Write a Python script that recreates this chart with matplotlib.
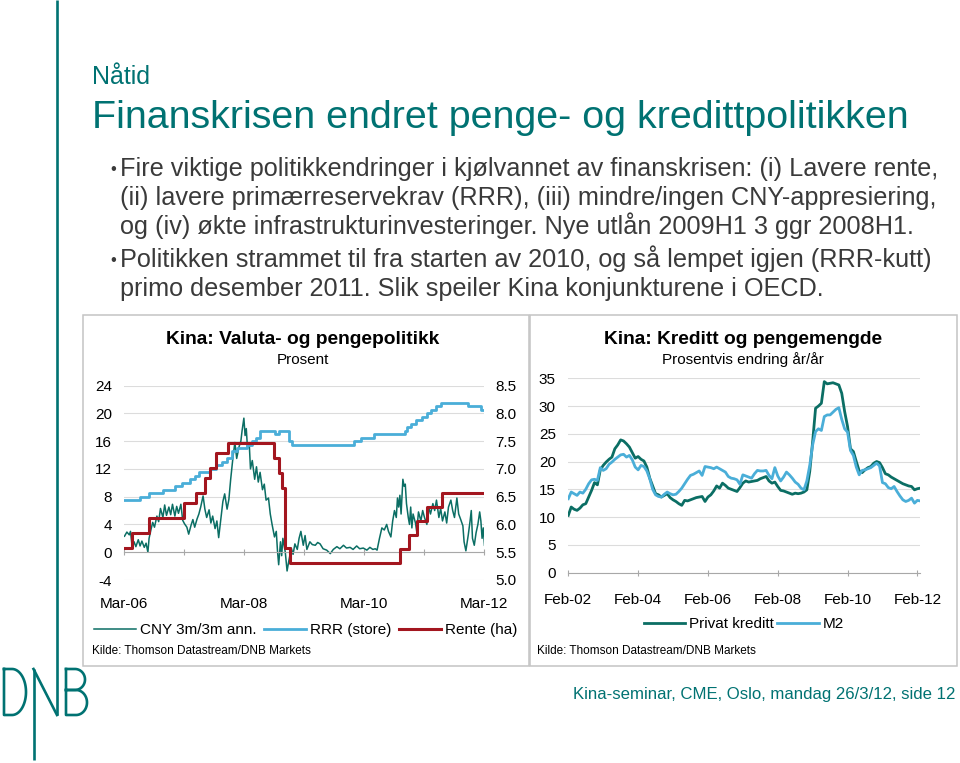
import matplotlib
matplotlib.use("Agg")
import matplotlib.pyplot as plt
from matplotlib.patches import Rectangle
import numpy as np

plt.rcParams['font.family'] = ['Liberation Sans', 'DejaVu Sans']
plt.rcParams['axes.unicode_minus'] = False

TEAL = '#007272'
DARK = '#0b6e64'
LIGHT = '#4aaed8'
RED = '#a3161f'
TXT = '#3a3a3a'

# ---- venstre figur: CNY 3m/3m ann. (venstre akse) ----
cny_t = [2006.17, 2006.21, 2006.25, 2006.27, 2006.30, 2006.33, 2006.36, 2006.40, 2006.43, 2006.46,
         2006.50, 2006.53, 2006.56, 2006.58, 2006.61, 2006.64, 2006.67, 2006.71, 2006.74, 2006.77,
         2006.81, 2006.84, 2006.87, 2006.91, 2006.94, 2006.97, 2007.01, 2007.04, 2007.07, 2007.11,
         2007.14, 2007.17, 2007.21, 2007.24, 2007.28, 2007.31, 2007.34, 2007.38, 2007.41, 2007.44,
         2007.48, 2007.51, 2007.54, 2007.58, 2007.61, 2007.64, 2007.68, 2007.71, 2007.74, 2007.78,
         2007.81, 2007.84, 2007.88, 2007.91, 2007.94, 2007.98, 2008.01, 2008.04, 2008.08, 2008.11,
         2008.13, 2008.16, 2008.18, 2008.20, 2008.22, 2008.25, 2008.27, 2008.30, 2008.34, 2008.37,
         2008.40, 2008.43, 2008.47, 2008.50, 2008.53, 2008.57, 2008.60, 2008.63, 2008.67, 2008.70,
         2008.72, 2008.74, 2008.77, 2008.79, 2008.81, 2008.85, 2008.88, 2008.91, 2008.95, 2008.98,
         2009.01, 2009.05, 2009.08, 2009.11, 2009.15, 2009.18, 2009.21, 2009.26, 2009.30, 2009.35,
         2009.39, 2009.43, 2009.48, 2009.54, 2009.60, 2009.65, 2009.71, 2009.76, 2009.82, 2009.87,
         2009.93, 2009.98, 2010.04, 2010.09, 2010.15, 2010.21, 2010.26, 2010.31, 2010.35, 2010.38,
         2010.42, 2010.46, 2010.50, 2010.54, 2010.57, 2010.61, 2010.64, 2010.67, 2010.70, 2010.72,
         2010.74, 2010.76, 2010.78, 2010.81, 2010.83, 2010.85, 2010.87, 2010.90, 2010.92, 2010.94,
         2010.96, 2010.98, 2011.02, 2011.04, 2011.07, 2011.11, 2011.14, 2011.17, 2011.21, 2011.24,
         2011.27, 2011.31, 2011.34, 2011.37, 2011.41, 2011.44, 2011.47, 2011.51, 2011.54, 2011.57,
         2011.61, 2011.64, 2011.67, 2011.71, 2011.74, 2011.77, 2011.81, 2011.83, 2011.86, 2011.90,
         2011.93, 2011.95, 2011.97, 2012.00, 2012.03, 2012.06, 2012.09, 2012.11, 2012.13, 2012.15,
         2012.17]
cny_v = [2.3, 2.9, 2.5, 3.0, 0.6, 1.5, 0.8, 1.8, 0.9, 1.6,
         0.7, 1.3, 0.0, 2.0, 3.2, 4.3, 3.6, 5.2, 4.4, 6.3,
         5.0, 6.8, 5.3, 6.5, 5.4, 6.9, 5.2, 6.6, 5.6, 6.9,
         4.6, 4.1, 3.6, 2.6, 3.9, 4.7, 3.6, 4.8, 5.5, 6.5,
         8.1, 6.2, 5.0, 6.1, 4.2, 5.2, 3.4, 4.5, 2.1, 5.0,
         7.3, 8.4, 6.2, 7.6, 10.5, 13.8, 15.8, 13.5, 15.2, 16.0,
         17.5, 19.3, 16.8, 17.8, 15.0, 15.5, 12.0, 13.2, 10.5, 12.3,
         10.1, 11.5, 9.0, 9.8, 7.5, 7.8, 5.5, 4.0, 2.2, 3.0,
         0.2, -1.8, 1.5, -0.5, 2.0, 0.0, -2.7, -1.2, 0.6, -0.3,
         1.2, 0.4, 2.0, 3.0, 1.0, 2.4, 0.4, 1.5, 1.1, 1.0,
         1.4, 1.2, 0.5, 0.3, -0.2, 0.4, 0.8, 0.5, 1.0, 0.6,
         0.7, 0.4, 0.9, 0.5, 0.6, 0.3, 0.7, 0.4, 0.5, 0.3,
         2.0, 3.5, 3.2, 4.0, 3.0, 2.2, 4.5, 6.0, 5.0, 7.8,
         6.5, 8.2, 5.5, 10.5, 9.5, 9.8, 7.0, 5.0, 4.0, 6.5,
         3.5, 5.5, 4.2, 3.0, 5.8, 4.5, 6.0, 5.0, 4.0, 6.5,
         5.5, 7.0, 6.0, 7.5, 5.0, 6.3, 4.5, 5.8, 4.2, 6.5,
         7.5, 6.0, 5.0, 7.8, 5.5, 4.8, 3.8, 1.5, 0.2, 2.5,
         4.5, 6.0, 2.0, 1.0, 2.8, 4.0, 5.8, 4.5, 2.0, 3.5,
         1.0]

# RRR (store banker), venstre akse
rrr_t = [2006.167, 2006.43, 2006.58, 2006.82, 2007.02, 2007.13, 2007.27, 2007.35, 2007.41, 2007.60,
         2007.70, 2007.80, 2007.88, 2007.96, 2008.05, 2008.21, 2008.30, 2008.37, 2008.43, 2008.68,
         2008.75, 2008.91, 2008.97, 2009.99, 2010.12, 2010.33, 2010.84, 2010.88, 2010.95, 2011.03,
         2011.13, 2011.21, 2011.28, 2011.36, 2011.44, 2011.90, 2012.12, 2012.167]
rrr_v = [7.5, 8.0, 8.5, 9.0, 9.5, 10.0, 10.5, 11.0, 11.5, 12.0,
         12.5, 13.0, 13.5, 14.5, 15.0, 15.5, 16.0, 16.5, 17.5, 17.0,
         17.5, 16.0, 15.5, 16.0, 16.5, 17.0, 17.5, 18.0, 18.5, 19.0,
         19.5, 20.0, 20.5, 21.0, 21.5, 21.0, 20.5, 20.5]

# Rente, høyre akse
rente_t = [2006.167, 2006.29, 2006.58, 2007.17, 2007.37, 2007.52, 2007.60, 2007.70, 2007.90, 2008.66,
           2008.74, 2008.80, 2008.84, 2008.93, 2010.76, 2010.92, 2011.04, 2011.21, 2011.47, 2012.167]
rente_v = [5.58, 5.85, 6.12, 6.39, 6.57, 6.84, 7.02, 7.29, 7.47, 7.20,
           6.93, 6.66, 5.58, 5.31, 5.56, 5.81, 6.06, 6.31, 6.56, 6.56]

left_ticks = [2006.167, 2007.167, 2008.167, 2009.167, 2010.167, 2011.167, 2012.167]
left_labels = ['Mar-06', 'Mar-08', 'Mar-10', 'Mar-12']

# ---- høyre figur: månedlig vekst år/år fra feb 2002 ----
kreditt = [10.3, 11.8, 11.4, 11.2, 11.6, 12.2, 12.4, 13.6, 14.8, 16.2,
           15.8, 18.5, 19.3, 19.9, 20.4, 20.8, 22.3, 23.0, 23.9, 23.7,
           23.2, 22.6, 21.6, 20.6, 20.9, 20.4, 20.1, 19.0, 17.0, 15.6,
           14.2, 14.0, 13.6, 13.9, 14.2, 13.5, 13.1, 12.8, 12.4, 12.1,
           13.0, 12.9, 13.1, 13.3, 13.5, 13.6, 13.7, 12.8, 13.6, 14.0,
           14.7, 15.6, 15.2, 16.1, 15.7, 15.2, 15.0, 14.8, 14.6, 15.3,
           16.1, 16.5, 16.3, 16.4, 16.5, 16.6, 16.9, 17.1, 17.3, 16.5,
           16.1, 16.3, 15.5, 14.8, 14.7, 14.5, 14.3, 14.1, 14.3, 14.2,
           14.3, 14.5, 14.9, 18.2, 23.6, 29.6, 30.0, 30.5, 34.4, 34.0,
           34.1, 34.2, 34.0, 33.8, 32.3, 29.0, 26.3, 22.3, 21.8, 20.0,
           18.3, 18.0, 18.5, 18.9, 19.1, 19.7, 20.0, 19.8, 18.9, 17.8,
           17.6, 17.2, 16.9, 16.6, 16.3, 16.0, 15.8, 15.6, 15.5, 14.9,
           15.1, 15.2]
m2 = [13.3, 14.5, 14.2, 13.9, 14.5, 14.3, 15.0, 16.0, 16.7, 16.8,
      16.6, 18.9, 18.4, 18.7, 19.5, 19.9, 20.4, 20.8, 21.2, 21.3,
      20.8, 21.1, 20.3, 19.0, 18.5, 19.3, 19.1, 18.3, 16.9, 15.0,
      14.0, 13.7, 13.6, 14.1, 14.5, 14.2, 14.0, 14.1, 14.6, 15.2,
      16.0, 16.8, 17.5, 17.7, 18.0, 18.3, 17.5, 19.1, 19.0, 18.9,
      18.7, 19.0, 18.7, 18.4, 18.1, 17.3, 17.0, 16.9, 16.7, 15.9,
      17.6, 17.4, 17.2, 17.0, 17.8, 18.4, 18.3, 18.3, 18.4, 17.5,
      16.9, 18.9, 17.4, 16.5, 17.2, 18.1, 17.6, 17.0, 16.3, 15.9,
      15.2, 14.9, 16.5, 19.3, 23.0, 25.4, 25.9, 25.6, 28.1, 28.4,
      28.4, 28.9, 29.4, 29.7, 27.6, 25.9, 25.3, 22.0, 21.1, 19.0,
      17.6, 18.4, 18.5, 18.7, 18.9, 19.3, 19.7, 19.2, 16.2, 16.0,
      15.3, 15.1, 15.5, 14.6, 13.8, 13.1, 12.8, 13.0, 13.4, 12.5,
      13.0, 12.9]
start_year = 2002 + 1 / 12
months = np.arange(len(kreditt))
right_t = start_year + months / 12
right_ticks = [2002.083, 2004.083, 2006.083, 2008.083, 2010.083, 2012.083]
right_labels = ['Feb-02', 'Feb-04', 'Feb-06', 'Feb-08', 'Feb-10', 'Feb-12']

W, H = 960, 763
fig = plt.figure(figsize=(9.6, 7.63), dpi=100)


def fx(x):
    return x / W


def fy(y):
    return 1 - y / H


# Bakgrunn / lysbilde i piksler
bg = fig.add_axes([0, 0, 1, 1], zorder=0)
bg.set_xlim(0, W)
bg.set_ylim(H, 0)
bg.axis('off')

# DNB-strek og logo
lw_logo = 1.9
bg.plot([57, 57], [0, 715], color=TEAL, lw=lw_logo, solid_capstyle='butt')
bg.plot([33.5, 33.5], [669, 760], color=TEAL, lw=lw_logo, solid_capstyle='butt')
bg.plot([33.5, 57], [669, 715], color=TEAL, lw=lw_logo)
th = np.linspace(-np.pi / 2, np.pi / 2, 60)
# D
bg.plot(np.r_[4, 12, 12 + 14 * np.cos(th), 12, 4, 4],
        np.r_[669, 669, 692 + 23 * np.sin(th), 715, 715, 669],
        color=TEAL, lw=lw_logo)
# B
bg.plot(np.r_[66, 75, 75 + 10 * np.cos(th), 66],
        np.r_[669, 669, 679.5 + 10.5 * np.sin(th), 690],
        color=TEAL, lw=lw_logo)
bg.plot(np.r_[66, 76, 76 + 11 * np.cos(th), 66, 66],
        np.r_[690, 690, 702.5 + 12.5 * np.sin(th), 715, 669],
        color=TEAL, lw=lw_logo)

# Overskrifter
bg.text(92, 84, 'Nåtid', color=TEAL, fontsize=18, va='baseline')
bg.text(92, 128, 'Finanskrisen endret penge- og kredittpolitikken', color=TEAL,
        fontsize=28.4, va='baseline')

bullets = [
    ['Fire viktige politikkendringer i kjølvannet av finanskrisen: (i) Lavere rente,',
     '(ii) lavere primærreservekrav (RRR), (iii) mindre/ingen CNY-appresiering,',
     'og (iv) økte infrastrukturinvesteringer. Nye utlån 2009H1 3 ggr 2008H1.'],
    ['Politikken strammet til fra starten av 2010, og så lempet igjen (RRR-kutt)',
     'primo desember 2011. Slik speiler Kina konjunkturene i OECD.'],
]
y = 176
for para in bullets:
    bg.text(110, y - 2, '•', color=TXT, fontsize=12, va='baseline')
    for line in para:
        bg.text(120, y, line, color=TXT, fontsize=18.2, va='baseline')
        y += 29
    y += 4

bg.text(955, 699, 'Kina-seminar, CME, Oslo, mandag 26/3/12, side 12', color=TEAL,
        fontsize=12.1, va='baseline', ha='right')

# Rammer rundt figurene
for x0, x1 in [(83, 529), (530, 957)]:
    bg.add_patch(Rectangle((x0, 315), x1 - x0, 351, fill=False, ec='#c4c4c4', lw=1.1))

bg.text(303, 344, 'Kina: Valuta- og pengepolitikk', fontsize=13.8, fontweight='bold',
        ha='center', va='baseline')
bg.text(303, 364, 'Prosent', fontsize=11, ha='center', va='baseline')
bg.text(743, 344, 'Kina: Kreditt og pengemengde', fontsize=13.8, fontweight='bold',
        ha='center', va='baseline')
bg.text(743, 364, 'Prosentvis endring år/år', fontsize=11, ha='center', va='baseline')
bg.text(92, 654, 'Kilde: Thomson Datastream/DNB Markets', fontsize=8.5, va='baseline')
bg.text(537, 654, 'Kilde: Thomson Datastream/DNB Markets', fontsize=8.5, va='baseline')

GRID = '#dcdcdc'
AXC = '#a8a8a8'

# ---- venstre figur ----
ax = fig.add_axes([fx(124.3), fy(580), fx(484.3) - fx(124.3), fy(385.5) - fy(580)], zorder=2)
ax.patch.set_alpha(0)
ax.set_xlim(2006.167, 2012.167)
ax.set_ylim(-4, 24)
ax.set_yticks([-4, 0, 4, 8, 12, 16, 20, 24])
ax.yaxis.grid(True, color=GRID, lw=0.8)
ax.set_axisbelow(True)
for s in ['top', 'right', 'left']:
    ax.spines[s].set_visible(False)
ax.spines['bottom'].set_position(('data', 0))
ax.spines['bottom'].set_color(AXC)
ax.set_xticks(left_ticks)
ax.tick_params(axis='x', direction='inout', length=5, color=AXC, labelbottom=False)
ax.tick_params(axis='y', length=0, pad=9, labelsize=11)
sec = ax.secondary_xaxis('bottom')
sec.set_xticks(left_ticks[::2], left_labels)
sec.tick_params(length=0, pad=12, labelsize=11)
sec.spines['bottom'].set_visible(False)

l1, = ax.plot(cny_t, cny_v, color=DARK, lw=1.1)
l2, = ax.step(rrr_t, rrr_v, where='post', color=LIGHT, lw=2.0)

ax2 = ax.twinx()
ax2.set_ylim(5.0, 8.5)
ax2.set_yticks([5.0, 5.5, 6.0, 6.5, 7.0, 7.5, 8.0, 8.5])
ax2.set_yticklabels(['%.1f' % v for v in [5.0, 5.5, 6.0, 6.5, 7.0, 7.5, 8.0, 8.5]])
for s in ax2.spines.values():
    s.set_visible(False)
ax2.tick_params(axis='y', length=0, pad=8, labelsize=11)
l3, = ax2.step(rente_t, rente_v, where='post', color=RED, lw=2.2)

fig.legend([l1, l2, l3], ['CNY 3m/3m ann.', 'RRR (store)', 'Rente (ha)'],
           loc='center', bbox_to_anchor=(fx(306), fy(630)), ncol=3, frameon=False,
           fontsize=11, handlelength=2.7, handletextpad=0.3, columnspacing=0.5,
           borderaxespad=0, borderpad=0)

# ---- høyre figur ----
bx = fig.add_axes([fx(568.3), fy(572.5), fx(919.7) - fx(568.3), fy(378.3) - fy(572.5)], zorder=2)
bx.patch.set_alpha(0)
bx.set_xlim(2002.083, 2012.15)
bx.set_ylim(0, 35)
bx.set_yticks(range(0, 36, 5))
bx.yaxis.grid(True, color=GRID, lw=0.8)
bx.set_axisbelow(True)
for s in ['top', 'right', 'left']:
    bx.spines[s].set_visible(False)
bx.spines['bottom'].set_color(AXC)
bx.set_xticks(right_ticks, right_labels)
bx.tick_params(axis='x', direction='inout', length=5, color=AXC, pad=12, labelsize=11)
bx.tick_params(axis='y', length=0, pad=9, labelsize=11)
r1, = bx.plot(right_t, kreditt, color=DARK, lw=2.0)
r2, = bx.plot(right_t, m2, color=LIGHT, lw=2.0)

fig.legend([r1, r2], ['Privat kreditt', 'M2'],
           loc='center', bbox_to_anchor=(fx(744), fy(624)), ncol=2, frameon=False,
           fontsize=11, handlelength=2.7, handletextpad=0.3, columnspacing=0.2,
           borderaxespad=0, borderpad=0)

fig.savefig('out.png', dpi=100)
